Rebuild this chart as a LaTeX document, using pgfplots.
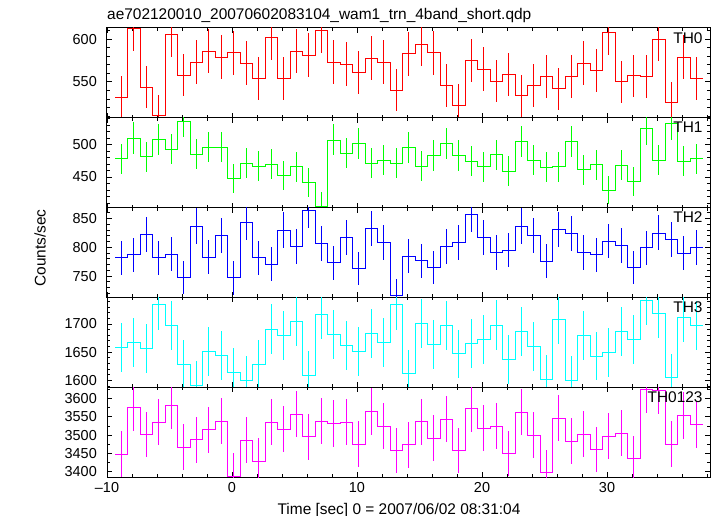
\documentclass[border=0pt]{standalone}
\usepackage{fontspec}
\setmainfont{Liberation Sans}
\usepackage{pgfplots}
\pgfplotsset{compat=1.18}
\usepackage{pgfplotstable}
\definecolor{qred}{rgb}{1,0,0}
\definecolor{qgreen}{rgb}{0,1,0}
\definecolor{qblue}{rgb}{0,0,1}
\definecolor{qcyan}{rgb}{0,1,1}
\definecolor{qmag}{rgb}{1,0,1}

\pgfplotstableread{
x y e
-8.86 532 24.5
-7.86 612 26.2
-6.86 544 24.7
-5.86 511 24.0
-4.86 605 26.1
-3.86 558 25.0
-2.86 573 25.4
-1.86 586 25.7
-0.86 579 25.5
0.14 584 25.6
1.14 572 25.4
2.14 554 24.9
3.14 602 26.0
4.14 554 24.9
5.14 586 25.7
6.14 581 25.6
7.14 610 26.2
8.14 573 25.4
9.14 571 25.3
10.14 561 25.1
11.14 578 25.5
12.14 573 25.4
13.14 540 24.6
14.14 583 25.6
15.14 594 25.8
16.14 584 25.6
17.14 546 24.8
18.14 523 24.2
19.14 575 25.4
20.14 565 25.2
21.14 551 24.9
22.14 559 25.1
23.14 534 24.5
24.14 546 24.8
25.14 556 25.0
26.14 542 24.7
27.14 556 25.0
28.14 572 25.4
29.14 563 25.2
30.14 608 26.1
31.14 550 24.9
32.14 557 25.0
33.14 556 25.0
34.14 600 26.0
35.14 526 24.3
36.14 579 25.5
37.14 554 24.9
}\thzero

\pgfplotstableread{
x y e
-8.86 478 23.2
-7.86 510 23.9
-6.86 481 23.2
-5.86 508 23.9
-4.86 493 23.5
-3.86 536 24.5
-2.86 485 23.3
-1.86 496 23.6
-0.86 496 23.6
0.14 448 22.4
1.14 471 23.0
2.14 467 22.9
3.14 470 23.0
4.14 452 22.5
5.14 466 22.9
6.14 442 22.3
7.14 405 21.3
8.14 507 23.9
9.14 487 23.4
10.14 502 23.7
11.14 471 23.0
12.14 476 23.1
13.14 471 23.0
14.14 495 23.6
15.14 467 22.9
16.14 483 23.3
17.14 501 23.7
18.14 483 23.3
19.14 474 23.1
20.14 466 22.9
21.14 484 23.3
22.14 459 22.7
23.14 505 23.8
24.14 476 23.1
25.14 465 22.9
26.14 466 22.9
27.14 504 23.8
28.14 461 22.8
29.14 469 23.0
30.14 430 22.0
31.14 468 22.9
32.14 443 22.3
33.14 524 24.3
34.14 476 23.1
35.14 532 24.4
36.14 474 23.1
37.14 478 23.2
}\thone

\pgfplotstableread{
x y e
-8.86 782 29.6
-7.86 787 29.7
-6.86 823 30.4
-5.86 782 29.6
-4.86 788 29.8
-3.86 748 29.0
-2.86 837 30.7
-1.86 783 29.7
-0.86 821 30.4
0.14 747 29.0
1.14 844 30.8
2.14 782 29.6
3.14 771 29.4
4.14 830 30.5
5.14 801 30.0
6.14 864 31.2
7.14 807 30.1
8.14 773 29.5
9.14 817 30.3
10.14 763 29.3
11.14 833 30.6
12.14 809 30.2
13.14 717 28.4
14.14 785 29.7
15.14 777 29.5
16.14 765 29.3
17.14 801 30.0
18.14 808 30.1
19.14 857 31.0
20.14 817 30.3
21.14 791 29.8
22.14 795 29.9
23.14 837 30.7
24.14 820 30.4
25.14 776 29.5
26.14 831 30.6
27.14 824 30.4
28.14 791 29.8
29.14 787 29.7
30.14 811 30.2
31.14 803 30.0
32.14 765 29.3
33.14 799 30.0
34.14 825 30.4
35.14 814 30.2
36.14 790 29.8
37.14 800 30.0
}\thtwo

\pgfplotstableread{
x y e
-8.86 1659 43.2
-7.86 1667 43.3
-6.86 1656 43.1
-5.86 1734 44.1
-4.86 1697 43.7
-3.86 1628 42.8
-2.86 1592 42.3
-1.86 1651 43.1
-0.86 1644 43.0
0.14 1615 42.6
1.14 1600 42.4
2.14 1628 42.8
3.14 1691 43.6
4.14 1680 43.4
5.14 1705 43.8
6.14 1609 42.5
7.14 1717 43.9
8.14 1681 43.5
9.14 1662 43.2
10.14 1651 43.1
11.14 1683 43.5
12.14 1667 43.3
13.14 1734 44.1
14.14 1612 42.6
15.14 1701 43.7
16.14 1663 43.2
17.14 1697 43.7
18.14 1647 43.0
19.14 1666 43.3
20.14 1672 43.3
21.14 1698 43.7
22.14 1637 42.9
23.14 1687 43.5
24.14 1660 43.2
25.14 1602 42.4
26.14 1708 43.8
27.14 1600 42.4
28.14 1679 43.4
29.14 1643 43.0
30.14 1649 43.0
31.14 1686 43.5
32.14 1672 43.3
33.14 1742 44.2
34.14 1719 43.9
35.14 1605 42.5
36.14 1712 43.9
37.14 1697 43.7
}\ththree

\pgfplotstableread{
x y e
-8.86 3448 62.2
-7.86 3576 63.4
-6.86 3502 62.7
-5.86 3535 63.0
-4.86 3581 63.4
-3.86 3468 62.4
-2.86 3488 62.6
-1.86 3515 62.8
-0.86 3539 63.1
0.14 3389 61.7
1.14 3486 62.6
2.14 3429 62.1
3.14 3535 63.0
4.14 3516 62.9
5.14 3557 63.2
6.14 3496 62.7
7.14 3539 63.1
8.14 3532 63.0
9.14 3536 63.0
10.14 3476 62.5
11.14 3565 63.3
12.14 3525 62.9
13.14 3458 62.3
14.14 3474 62.5
15.14 3537 63.0
16.14 3492 62.6
17.14 3544 63.1
18.14 3458 62.3
19.14 3572 63.4
20.14 3519 62.9
21.14 3525 62.9
22.14 3450 62.3
23.14 3563 63.3
24.14 3500 62.7
25.14 3399 61.8
26.14 3546 63.1
27.14 3484 62.6
28.14 3503 62.7
29.14 3461 62.4
30.14 3498 62.7
31.14 3505 62.8
32.14 3436 62.1
33.14 3625 63.8
34.14 3622 63.8
35.14 3476 62.5
36.14 3554 63.2
37.14 3529 63.0
}\thall

\pgfplotsset{
  panel/.style={
    scale only axis, width=603bp, height=89.8bp,
    xmin=-10, xmax=38.24,
    xtick={-10,0,10,20,30}, minor xtick={-8,-6,...,38},
    xticklabels={,,},
    tick align=inside, xtick pos=both, ytick pos=both,
    major tick length=5bp, minor tick length=3bp,
    every tick/.style={black, line width=0.8bp},
    axis line style={black, line width=1bp},
    tick label style={font=\fontsize{14.5}{17}\selectfont},
    /pgf/number format/assume math mode=true,
    /pgf/number format/1000 sep={},
    yticklabel style={inner sep=0pt, anchor=east, xshift=-10bp},
    anchor=north west,
  },
  hist/.style={color=#1, line width=0.8bp, const plot mark mid, mark=none,
    error bars/.cd, x dir=both, x fixed=0.5, y dir=both, y explicit,
    error mark=none, error bar style={color=#1, line width=0.8bp}},
}
\newcommand{\lab}[1]{\node[anchor=north east, inner sep=0pt, font=\fontsize{15.5}{18}\selectfont] at (rel axis cs:0.988,0.955) {#1};}

\begin{document}
\begin{tikzpicture}
\begin{axis}[panel, at={(0,0)}, ymin=508, ymax=613, ytick={550,600}, minor ytick={510,520,...,610}]
\addplot[hist=qred] table[x=x, y=y, y error=e] {\thzero};
\lab{TH0}
\end{axis}
\begin{axis}[panel, at={(0,-89.8bp)}, ymin=403, ymax=541, ytick={450,500}, minor ytick={410,420,...,540}]
\addplot[hist=qgreen] table[x=x, y=y, y error=e] {\thone};
\lab{TH1}
\end{axis}
\begin{axis}[panel, at={(0,-179.6bp)}, ymin=713, ymax=869, ytick={750,800,850}, minor ytick={720,730,...,860}]
\addplot[hist=qblue] table[x=x, y=y, y error=e] {\thtwo};
\lab{TH2}
\end{axis}
\begin{axis}[panel, at={(0,-269.4bp)}, ymin=1588, ymax=1747, ytick={1600,1650,1700}, minor ytick={1590,1600,...,1740}]
\addplot[hist=qcyan] table[x=x, y=y, y error=e] {\ththree};
\lab{TH3}
\end{axis}
\begin{axis}[panel, at={(0,-359.2bp)}, ymin=3386, ymax=3631, ytick={3400,3450,...,3600}, minor ytick={3400,3425,...,3625},
  xticklabels={\textendash10,0,10,20,30}, xticklabel style={inner sep=0pt, anchor=north, yshift=-5bp}]
\addplot[hist=qmag] table[x=x, y=y, y error=e] {\thall};
\lab{TH0123}
\end{axis}
\node[anchor=base west, inner sep=0pt, font=\fontsize{15.5}{18}\selectfont] at (0bp,9bp) {ae702120010\_20070602083104\_wam1\_trn\_4band\_short.qdp};
\node[anchor=base, inner sep=0pt, font=\fontsize{15.5}{18}\selectfont] at (292bp,-486bp) {Time [sec] 0 = 2007/06/02 08:31:04};
\node[rotate=90, inner sep=0pt, font=\fontsize{15.5}{18}\selectfont] at (-67bp,-220bp) {Counts/sec};
\pgfresetboundingbox
\path[use as bounding box] (-107bp,28bp) rectangle (610bp,-488bp);
\end{tikzpicture}
\end{document}
